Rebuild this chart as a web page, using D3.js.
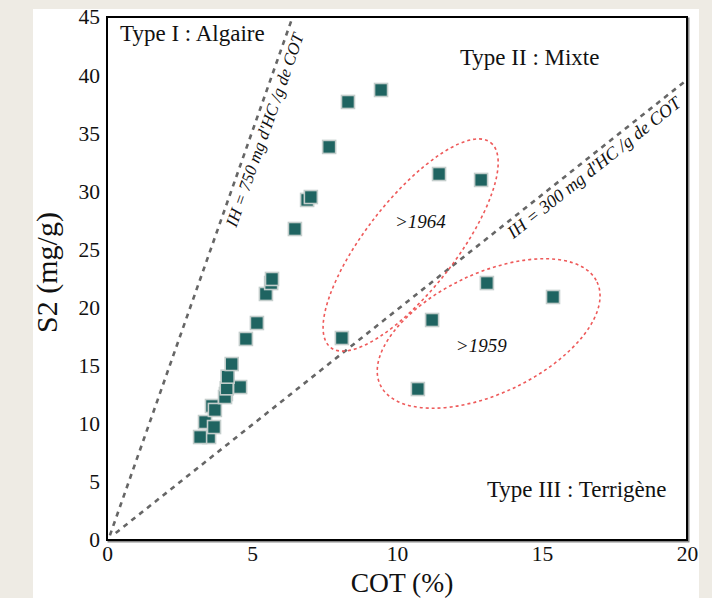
<!DOCTYPE html>
<html><head><meta charset="utf-8">
<script src="https://cdn.jsdelivr.net/npm/d3@7"></script>
<style>html,body{margin:0;padding:0;background:#eeebe4;} svg{display:block} text{font-family:"Liberation Serif","Times New Roman",Times,serif;}</style>
</head><body><svg id="c" width="712" height="598"></svg>
<script>
// ---- data ----
const cot = [3.52, 3.21, 3.38, 3.69, 3.62, 3.72, 4.10, 4.07, 4.13, 4.59, 4.16, 4.30, 4.79, 5.17, 5.48, 5.66, 5.69, 6.48, 6.90, 7.03, 7.66, 8.31, 9.45, 8.10, 11.45, 12.90, 11.21, 13.10, 15.38, 10.72];
const s2  = [8.86, 8.86, 10.15, 9.72, 11.53, 11.19, 12.56, 12.30, 13.05, 13.16, 14.05, 15.14, 17.30, 18.67, 21.17, 22.11, 22.46, 26.76, 29.26, 29.51, 33.82, 37.69, 38.72, 17.38, 31.49, 30.98, 18.93, 22.11, 20.91, 12.99];
const xTicks = [0, 5, 10, 15, 20];
const yTicks = [0, 5, 10, 15, 20, 25, 30, 35, 40, 45];
const xTitle = "COT (%)";
const yTitle = "S2 (mg/g)";
const ih750 = [[0.1, 0.4], [6.4, 45]];
const ih300 = [[0.3, 0.6], [20, 39.6]];
const ihLabels = ["IH = 750 mg d'HC /g de COT", "IH = 300 mg d'HC /g de COT"];
const typeNames = ["Type I : Algaire", "Type II : Mixte", "Type III : Terrigène"];
const typeAnchors = [[0.45, 42.9], [12.17, 40.9], [13.1, 3.7]];
const groupNames = [">1964", ">1959"];
const groupLabelAnchors = [[9.93, 26.85], [12.03, 16.2]];
const groupCenters = [[10.47, 25.38], [13.16, 17.77]];

// ---- layout ----
const svg = d3.select("#c");
const L = 107, R = 687, T = 17, B = 540;
const x = d3.scaleLinear().domain([0, 20]).range([L, R]);
const y = d3.scaleLinear().domain([0, 45]).range([B, T]);

svg.append("rect").attr("x", 33).attr("y", 9).attr("width", 666).attr("height", 589).attr("fill", "#ffffff");

// frame with slight shadow
svg.append("rect").attr("x", L + 1.5).attr("y", T + 1.5).attr("width", R - L).attr("height", B - T)
  .attr("fill", "none").attr("stroke", "#8a8a8a").attr("stroke-width", 2);
svg.append("rect").attr("x", L).attr("y", T).attr("width", R - L).attr("height", B - T)
  .attr("fill", "#fff").attr("stroke", "#000").attr("stroke-width", 2);

// axes (labels only)
const gx = svg.append("g").attr("transform", `translate(0,${B})`)
  .call(d3.axisBottom(x).tickValues(xTicks).tickSize(0).tickPadding(6).tickFormat(d3.format("d")));
const gy = svg.append("g").attr("transform", `translate(${L},0)`)
  .call(d3.axisLeft(y).tickValues(yTicks).tickSize(0).tickPadding(7).tickFormat(d3.format("d")));
[gx, gy].forEach(g => {
  g.select(".domain").remove();
  g.attr("font-family", null).attr("font-size", null);
  g.selectAll("text").attr("font-size", 21.5).attr("fill", "#111");
});

svg.append("text").attr("x", 402).attr("y", 592).attr("text-anchor", "middle")
  .attr("font-size", 27.5).attr("fill", "#111").text(xTitle);
svg.append("text").attr("transform", `translate(57,${(T + B) / 2 - 6}) rotate(-90)`).attr("text-anchor", "middle")
  .attr("font-size", 30).attr("fill", "#111").text(yTitle);

// clip to plot area
svg.append("clipPath").attr("id", "pc").append("rect").attr("x", L).attr("y", T).attr("width", R - L).attr("height", B - T);
const plot = svg.append("g").attr("clip-path", "url(#pc)");

// IH lines
const line = d3.line().x(d => x(d[0])).y(d => y(d[1]));
[ih750, ih300].forEach(l => {
  plot.append("path").attr("d", line(l)).attr("fill", "none").attr("stroke", "#666")
    .attr("stroke-width", 2.6).attr("stroke-dasharray", "5,5");
});

// IH labels placed along their lines
const labelT = [332, 494], labelOff = [17, 17], labelSize = [17, 18];
[ih750, ih300].forEach((l, i) => {
  const x0 = x(l[0][0]), y0 = y(l[0][1]), x1 = x(l[1][0]), y1 = y(l[1][1]);
  const len = Math.hypot(x1 - x0, y1 - y0);
  const ux = (x1 - x0) / len, uy = (y1 - y0) / len;
  const nx = -uy, ny = ux;
  const px = x0 + ux * labelT[i] + nx * labelOff[i];
  const py = y0 + uy * labelT[i] + ny * labelOff[i];
  const ang = Math.atan2(uy, ux) * 180 / Math.PI;
  svg.append("text").attr("transform", `translate(${px},${py}) rotate(${ang})`)
    .attr("font-style", "italic").attr("font-size", labelSize[i])
    .attr("fill", "#111").text(ihLabels[i]);
});

// group ellipses
const ellR = [[130, 45, -52], [120, 60, -25.4]];
groupCenters.forEach((c, i) => {
  plot.append("ellipse").attr("transform", `translate(${x(c[0])},${y(c[1])}) rotate(${ellR[i][2]})`)
    .attr("rx", ellR[i][0]).attr("ry", ellR[i][1]).attr("fill", "none")
    .attr("stroke", "#ee5a5a").attr("stroke-width", 1.6).attr("stroke-dasharray", "3,3");
});

// points
const pts = cot.map((c, i) => ({ c, s: s2[i] }));
const sz = 13;
plot.selectAll("rect.pt").data(pts).enter().append("rect").attr("class", "pt")
  .attr("x", d => x(d.c) - sz / 2).attr("y", d => y(d.s) - sz / 2)
  .attr("width", sz).attr("height", sz)
  .attr("fill", "#1f6461").attr("stroke", "#c3cdcb").attr("stroke-width", 1.6);

// type labels
typeNames.forEach((t, i) => {
  svg.append("text").attr("x", x(typeAnchors[i][0])).attr("y", y(typeAnchors[i][1]))
    .attr("font-size", 23).attr("fill", "#111").text(t);
});
// group labels
groupNames.forEach((t, i) => {
  svg.append("text").attr("x", x(groupLabelAnchors[i][0])).attr("y", y(groupLabelAnchors[i][1]))
    .attr("font-style", "italic").attr("font-size", 19).attr("fill", "#111").text(t);
});
</script></body></html>
